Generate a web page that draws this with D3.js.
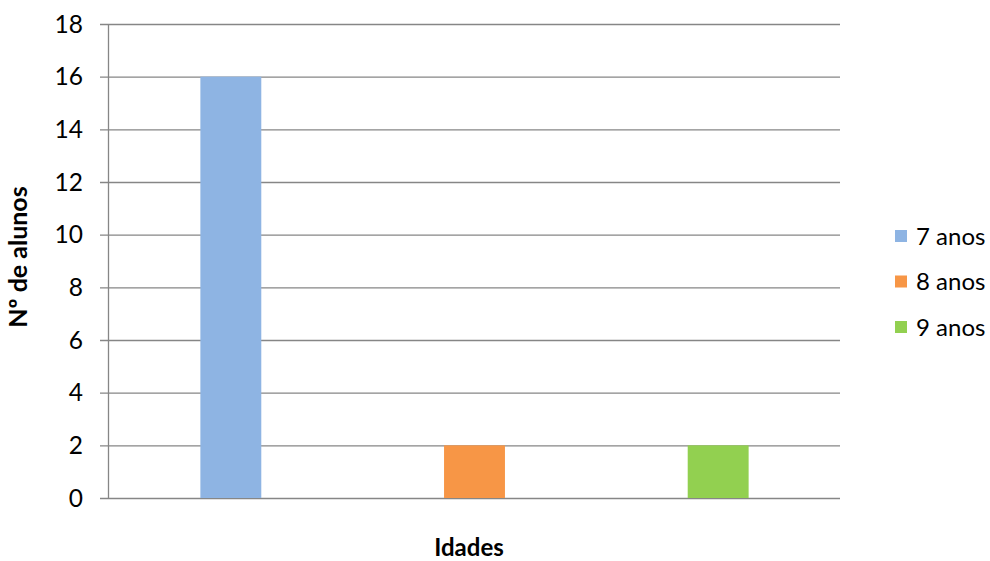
<!DOCTYPE html>
<html>
<head>
<meta charset="utf-8">
<script src="https://cdn.jsdelivr.net/npm/d3@7"></script>
<style>
  body { margin: 0; background: #fff; }
  text { font-family: Lato, "Open Sans", sans-serif; fill: #000; }
</style>
</head>
<body>
<svg width="990" height="561"></svg>
<script>
// Chart data
const categories = ["7 anos", "8 anos", "9 anos"];
const values = [16, 2, 2];
const colors = ["#8eb4e3", "#f79646", "#92d050"];
const yTicks = [0, 2, 4, 6, 8, 10, 12, 14, 16, 18];

const margin = { top: 24, left: 109, right: 150, bottom: 63 },
      width = 731,
      height = 474;

const svg = d3.select("svg")
    .append("g")
    .attr("transform", `translate(${margin.left},${margin.top})`);

const x = d3.scaleBand()
    .domain(categories)
    .range([0, width])
    .paddingInner(0)
    .paddingOuter(0);

const y = d3.scaleLinear()
    .domain([0, 18])
    .range([height, 0]);

// grid lines
svg.append("g")
    .selectAll("line")
    .data(yTicks)
    .join("line")
    .attr("x1", -9)
    .attr("x2", width)
    .attr("y1", d => y(d) + 0.5)
    .attr("y2", d => y(d) + 0.5)
    .attr("stroke", "#868686")
    .attr("stroke-width", 1.3);

// tick labels
svg.append("g")
    .selectAll("text")
    .data(yTicks)
    .join("text")
    .attr("x", -26)
    .attr("y", d => y(d))
    .attr("dy", "0.36em")
    .attr("text-anchor", "end")
    .style("font-size", "24.5px")
    .text(d => d);

// bars
const barW = x.bandwidth() * 0.25;
svg.append("g")
    .selectAll("rect")
    .data(values)
    .join("rect")
    .attr("x", (d, i) => x(categories[i]) + (x.bandwidth() - barW) / 2)
    .attr("y", d => y(d))
    .attr("width", barW)
    .attr("height", d => y(0) - y(d))
    .attr("fill", (d, i) => colors[i]);

// vertical axis line
svg.append("line")
    .attr("x1", -0.5).attr("x2", -0.5)
    .attr("y1", 0).attr("y2", height + 1)
    .attr("stroke", "#868686")
    .attr("stroke-width", 1.3);

// axis labels
svg.append("text")
    .attr("transform", "rotate(-90)")
    .attr("x", -233)
    .attr("y", -82)
    .attr("text-anchor", "middle")
    .style("font-size", "25px")
    .style("font-weight", "bold")
    .text("Nº de alunos");

svg.append("text")
    .attr("x", 360)
    .attr("y", 532)
    .attr("text-anchor", "middle")
    .style("font-size", "24px")
    .style("font-weight", "bold")
    .text("Idades");

// legend
const legend = d3.select("svg").append("g")
    .selectAll("g")
    .data(categories)
    .join("g")
    .attr("transform", (d, i) => `translate(895,${236 + i * 45.5})`);

legend.append("rect")
    .attr("x", 0).attr("y", -6)
    .attr("width", 12).attr("height", 12)
    .attr("fill", (d, i) => colors[i]);

legend.append("text")
    .attr("x", 21)
    .attr("y", 0)
    .attr("dy", "0.36em")
    .style("font-size", "24px")
    .text(d => d);
</script>
</body>
</html>
